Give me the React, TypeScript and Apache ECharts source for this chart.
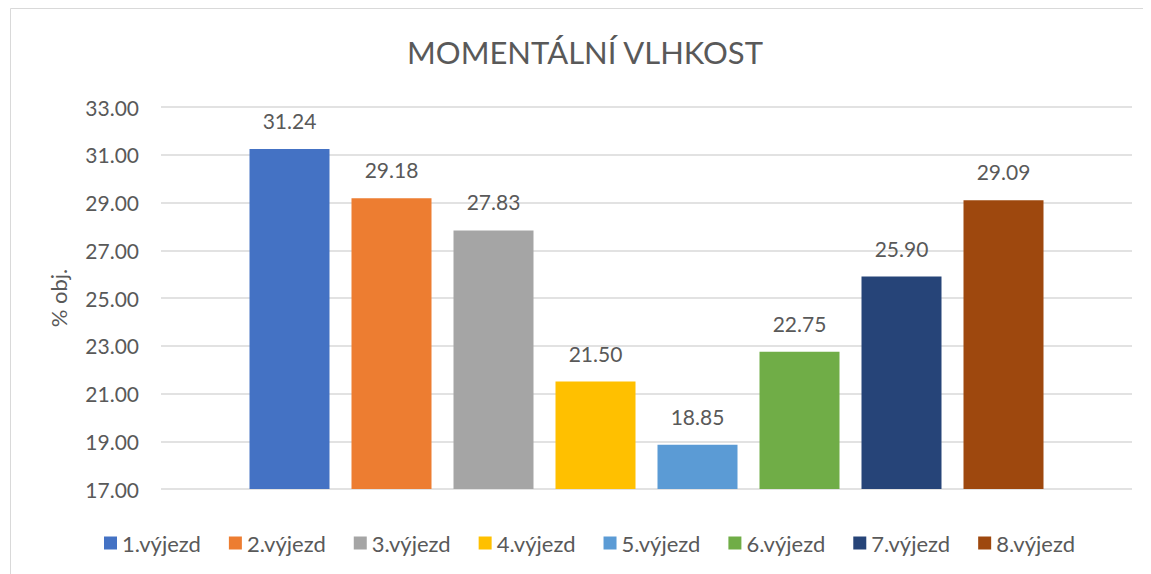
import React, { useEffect, useRef } from "react";
import * as echarts from "echarts";

const titleText = "MOMENTÁLNÍ VLHKOST";
const yAxisName = "% obj.";
const seriesNames = ["1.výjezd", "2.výjezd", "3.výjezd", "4.výjezd", "5.výjezd", "6.výjezd", "7.výjezd", "8.výjezd"];
const values = [31.24, 29.18, 27.83, 21.5, 18.85, 22.75, 25.9, 29.09];
const colors = ["#4472C4", "#ED7D31", "#A5A5A5", "#FFC000", "#5B9BD5", "#70AD47", "#264478", "#9E480E"];
const yMin = 17;
const yMax = 33;
const yStep = 2;

const FONT = "Lato, 'Open Sans', sans-serif";
const TEXT = "#595959";

export default function App() {
  const ref = useRef<HTMLDivElement>(null);
  useEffect(() => {
    if (!ref.current) return;
    const chart = echarts.init(ref.current, null, { renderer: "svg" });
    chart.setOption({
      animation: false,
      textStyle: { fontFamily: FONT, color: TEXT },
      graphic: [
        {
          type: "rect",
          shape: { x: 2.5, y: 0.5, width: 1300, height: 800 },
          style: { fill: "none", stroke: "#D9D9D9", lineWidth: 1 },
          silent: true,
        },
      ],
      title: {
        text: titleText,
        left: 572,
        top: 23,
        textAlign: "center",
        textStyle: { fontFamily: FONT, fontSize: 31, fontWeight: "normal", color: TEXT },
      },
      grid: { left: 153, right: 11, top: 99, bottom: 85, containLabel: false },
      legend: {
        data: seriesNames,
        left: 91,
        top: 519,
        itemWidth: 13,
        itemHeight: 13,
        itemGap: 28,
        icon: "rect",
        textStyle: { fontFamily: FONT, fontSize: 22, color: TEXT },
      },
      xAxis: {
        type: "category",
        data: [""],
        axisLine: { show: false },
        axisTick: { show: false },
        axisLabel: { show: false },
      },
      yAxis: {
        type: "value",
        min: yMin,
        max: yMax,
        interval: yStep,
        name: yAxisName,
        nameLocation: "middle",
        nameGap: 92,
        nameTextStyle: { fontFamily: FONT, fontSize: 22, color: TEXT },
        axisLine: { show: false },
        axisTick: { show: false },
        axisLabel: {
          fontFamily: FONT,
          fontSize: 21,
          color: TEXT,
          margin: 22,
          formatter: (v: number) => v.toFixed(2),
        },
        splitLine: { lineStyle: { color: "#D9D9D9", width: 1.5 } },
      },
      series: seriesNames.map((name, i) => ({
        name,
        type: "bar",
        data: [values[i]],
        barWidth: 80,
        barGap: "27.5%",
        itemStyle: { color: colors[i] },
        label: {
          show: true,
          position: "top",
          distance: 18,
          fontFamily: FONT,
          fontSize: 21,
          color: TEXT,
          formatter: (p: any) => Number(p.value).toFixed(2),
        },
      })),
    });
    return () => chart.dispose();
  }, []);
  return <div ref={ref} style={{ width: 1135, height: 566 }} />;
}
